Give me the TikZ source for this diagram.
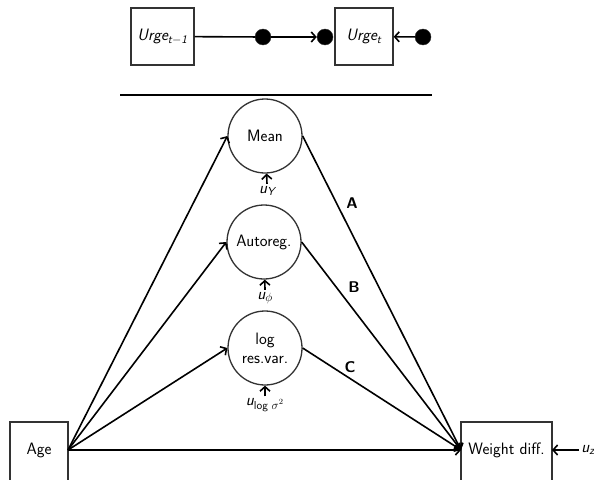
\documentclass[tikz,border=0pt]{standalone}
\usetikzlibrary{arrows.meta}
\begin{document}
\begin{tikzpicture}[x=1pt,y=-1pt,
  font=\sffamily\fontsize{16.5}{19}\selectfont,
  >={Straight Barb[length=4.5pt,width=10pt]},
  box/.style={draw=black!80, line width=1.3pt, inner sep=0pt, minimum height=57pt},
  dot/.style={circle, fill=black, draw=black!80, inner sep=0pt, minimum size=16pt},
  latent/.style={circle, draw=black!80, line width=1.3pt, inner sep=0pt, minimum size=74pt, align=center},
  conn/.style={line width=1.6pt},
  lbl/.style={inner sep=2pt},
  path lbl/.style={font=\sffamily\bfseries\fontsize{15.5}{18}\selectfont}]
\useasboundingbox (0,0) rectangle (594,479);
% top panel
\node[box, minimum width=63pt] (u1) at (162.5,36.5) {\itshape Urge\textsubscript{\itshape t$-$1}};
\node[dot] (d1) at (263,37) {};
\node[dot] (d2) at (325,37) {};
\node[box, minimum width=58pt] (u2) at (364,36.5) {\itshape Urge\textsubscript{\itshape t}};
\node[dot] (d3) at (423,37) {};
\draw[conn] (u1) -- (d1);
\draw[conn,->] (d1) -- (d2);
\draw[conn,->] (d3) -- (u2);
\coordinate (l1) at (120,95);
\coordinate (l2) at (432,95);
\draw[line width=1.8pt] (l1) -- (l2);
% latent circles
\node[latent] (mean) at (265,136) {Mean};
\node[latent] (ar) at (264,242) {Autoreg.};
\node[latent] (lr) at (265,348) {log\\res.var.};
\node[lbl] (uy) at (267,191) {\itshape u\textsubscript{\itshape Y}};
\node[lbl] (uphi) at (265,298) {\itshape u\textsubscript{$\phi$}};
\node[lbl] (ulog) at (265,405) {\itshape u\textsubscript{\upshape log $\sigma^2$}};
\draw[conn,->] (uy.north) -- (mean);
\draw[conn,->] (uphi.north) -- (ar);
\draw[conn,->] (ulog.north) -- (lr);
% bottom boxes
\node[box, minimum width=58pt, minimum height=60pt] (age) at (39,452) {};
\node[box, minimum width=91pt, minimum height=60pt] (wd) at (506.5,452) {};
\node (agetxt) at (39,450) {Age};
\node (wdtxt) at (506.5,450) {Weight diff.};
\coordinate (ageport) at (68,450);
\coordinate (wdport) at (461,450);
\node[lbl] (uz) at (588,450) {\itshape u\textsubscript{\itshape z}};
\coordinate (wdeast) at (552,450);
\draw[conn,->] (uz) -- (wdeast);
% paths
\draw[conn,->] (ageport) -- (mean.west);
\draw[conn,->] (ageport) -- (ar.west);
\draw[conn,->] (ageport) -- (lr.west);
\draw[conn,->] (ageport) -- (wdport);
\draw[conn,->] (mean.east) -- (wdport);
\draw[conn,->] (ar.east) -- (wdport);
\draw[conn,->] (lr.east) -- (wdport);
\node[path lbl] (la) at (352,203) {A};
\node[path lbl] (lb) at (354,287) {B};
\node[path lbl] (lc) at (350,367) {C};
\end{tikzpicture}
\end{document}
